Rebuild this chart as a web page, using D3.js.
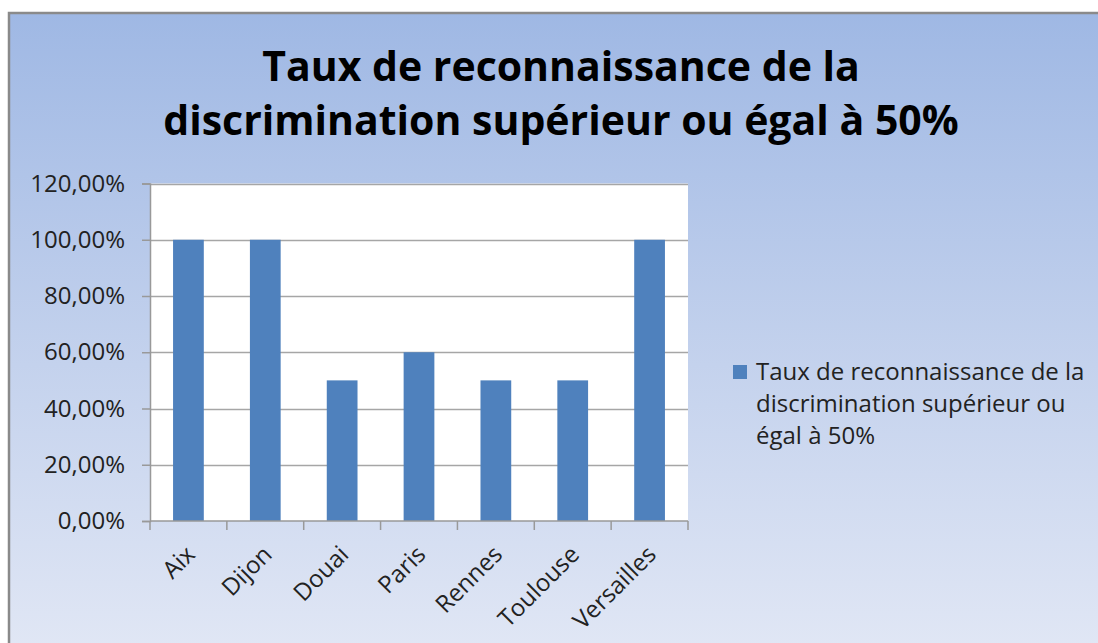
<!DOCTYPE html>
<html>
<head>
<meta charset="utf-8">
<script src="https://cdn.jsdelivr.net/npm/d3@7"></script>
<style>
  html, body { margin: 0; padding: 0; background: #fff; }
  svg { display: block; }
</style>
</head>
<body>
<svg id="chart" width="1098" height="643"></svg>
<script>
const categories = ["Aix", "Dijon", "Douai", "Paris", "Rennes", "Toulouse", "Versailles"];
const values = [1.0, 1.0, 0.5, 0.6, 0.5, 0.5, 1.0];
const yTicks = [0, 0.2, 0.4, 0.6, 0.8, 1.0, 1.2];
const titleLines = ["Taux de reconnaissance de la", "discrimination supérieur ou égal à 50%"];
const legendLines = ["Taux de reconnaissance de la", "discrimination supérieur ou", "égal à 50%"];

const svg = d3.select("#chart");
const font = "'Open Sans', sans-serif";
const barColor = "#4f81bd";
const labelSize = 24;

// background gradient of the chart area
const defs = svg.append("defs");
const grad = defs.append("linearGradient")
  .attr("id", "bg").attr("x1", 0).attr("y1", 0).attr("x2", 0).attr("y2", 1);
grad.append("stop").attr("offset", "0%").attr("stop-color", "#9fb8e4");
grad.append("stop").attr("offset", "55%").attr("stop-color", "#c4d2ed");
grad.append("stop").attr("offset", "100%").attr("stop-color", "#e1e7f5");

svg.append("rect")
  .attr("x", 9).attr("y", 13).attr("width", 1100).attr("height", 640)
  .attr("fill", "url(#bg)")
  .attr("stroke", "#8a8a8a").attr("stroke-width", 2.5);

// plot area
const plot = { left: 150, top: 183.5, right: 688, bottom: 521 };

const x = d3.scaleBand()
  .domain(categories)
  .range([plot.left, plot.right])
  .paddingInner(0.6)
  .paddingOuter(0.3);

const y = d3.scaleLinear()
  .domain([0, 1.2])
  .range([plot.bottom, plot.top]);

svg.append("rect")
  .attr("x", plot.left).attr("y", plot.top)
  .attr("width", plot.right - plot.left).attr("height", plot.bottom - plot.top)
  .attr("fill", "#fff");

// gridlines
svg.append("g")
  .selectAll("line")
  .data(yTicks.filter(d => d > 0))
  .join("line")
  .attr("x1", plot.left).attr("x2", plot.right)
  .attr("y1", d => Math.round(y(d)) + 0.5).attr("y2", d => Math.round(y(d)) + 0.5)
  .attr("stroke", "#a6a6a6").attr("stroke-width", 1.5);

// bars
svg.append("g")
  .selectAll("rect")
  .data(values)
  .join("rect")
  .attr("x", (d, i) => x(categories[i]))
  .attr("width", x.bandwidth())
  .attr("y", d => y(d))
  .attr("height", d => y(0) - y(d))
  .attr("fill", barColor);

// y axis
const fmt = d => d3.format(".2f")(d * 100).replace(".", ",") + "%";
const yAxis = svg.append("g")
  .attr("transform", `translate(${plot.left},0)`)
  .call(d3.axisLeft(y).tickValues(yTicks).tickFormat(fmt).tickSize(8).tickPadding(17));
yAxis.select(".domain").attr("stroke", "#999").attr("stroke-width", 1.5);
yAxis.selectAll(".tick line").attr("stroke", "#999").attr("stroke-width", 1.5);
yAxis.selectAll(".tick text")
  .attr("font-family", font).attr("font-size", labelSize).attr("fill", "#222");

// x axis: ticks between categories
const boundaries = d3.range(categories.length + 1).map(i => plot.left + i * (plot.right - plot.left) / categories.length);
const xAxis = svg.append("g");
xAxis.append("line")
  .attr("x1", plot.left).attr("x2", plot.right)
  .attr("y1", plot.bottom).attr("y2", plot.bottom)
  .attr("stroke", "#999").attr("stroke-width", 1.5);
xAxis.selectAll("line.tk")
  .data(boundaries)
  .join("line")
  .attr("class", "tk")
  .attr("x1", d => d).attr("x2", d => d)
  .attr("y1", plot.bottom).attr("y2", plot.bottom + 9)
  .attr("stroke", "#999").attr("stroke-width", 1.5);
xAxis.selectAll("text")
  .data(categories)
  .join("text")
  .attr("transform", d => `translate(${x(d) + x.bandwidth() / 2 + 8},${plot.bottom + 35}) rotate(-45)`)
  .attr("text-anchor", "end")
  .attr("font-family", font).attr("font-size", labelSize).attr("fill", "#222")
  .text(d => d);

// title
svg.append("g")
  .selectAll("text")
  .data(titleLines)
  .join("text")
  .attr("x", 561)
  .attr("y", (d, i) => 81 + i * 54)
  .attr("text-anchor", "middle")
  .attr("font-family", font).attr("font-weight", "bold").attr("font-size", 41)
  .attr("fill", "#000")
  .text(d => d);

// legend
const legend = svg.append("g");
legend.append("rect")
  .attr("x", 733).attr("y", 365).attr("width", 14).attr("height", 14)
  .attr("fill", barColor);
legend.selectAll("text")
  .data(legendLines)
  .join("text")
  .attr("x", 756)
  .attr("y", (d, i) => 380 + i * 32)
  .attr("font-family", font).attr("font-size", labelSize).attr("fill", "#222")
  .text(d => d);
</script>
</body>
</html>
